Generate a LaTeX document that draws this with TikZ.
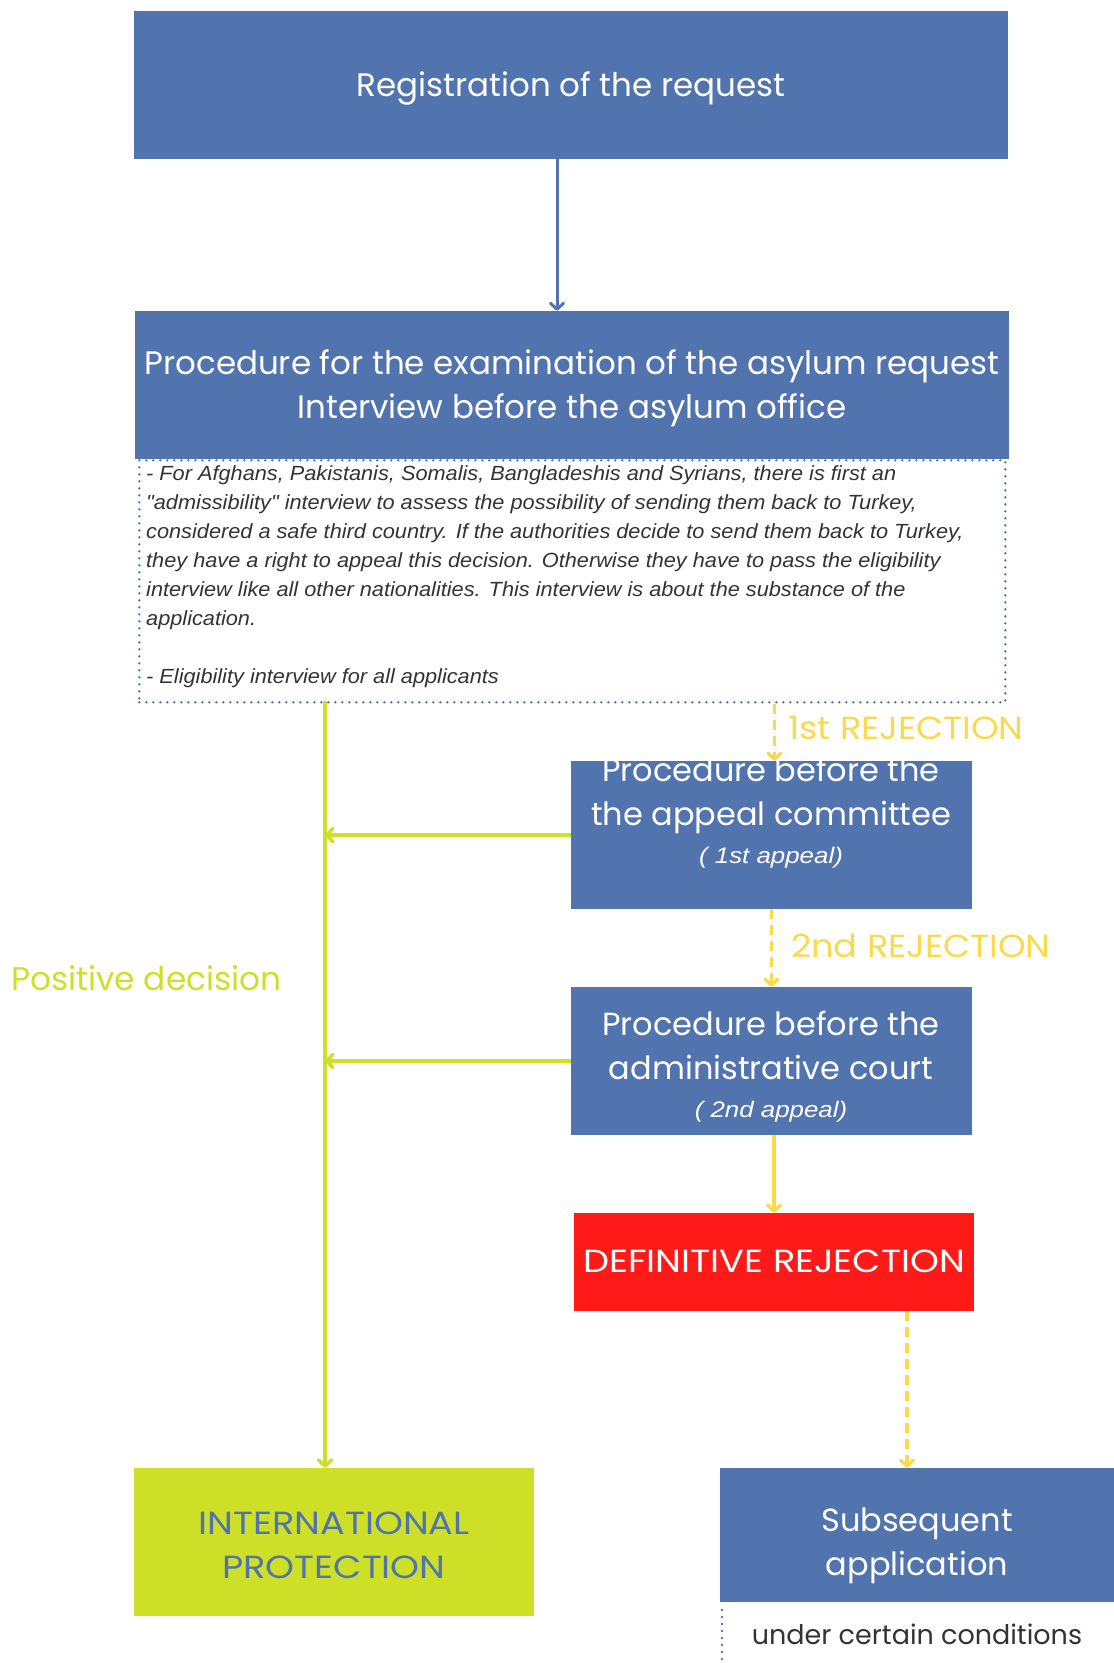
\documentclass[tikz,border=0pt]{standalone}
\usepackage{fontspec}
\setmainfont{Poppins}
\newfontfamily\capsfont{Poppins}[FakeStretch=1.15]
\newfontfamily\rejfont{Poppins}[FakeStretch=1.1]
\newfontfamily\notefont{Liberation Sans}[FakeStretch=1.06]
\newfontfamily\appealfamily{Liberation Sans}[FakeStretch=1.15]
\newcommand\appealfont{\appealfamily\itshape\fontsize{22.5}{26}\selectfont}
\usetikzlibrary{arrows.meta,positioning}

\definecolor{stageblue}{HTML}{5174AE}
\definecolor{okgreen}{HTML}{CDE027}
\definecolor{rejyellow}{HTML}{F9DA4A}
\definecolor{finalred}{HTML}{FF1A1A}
\definecolor{notegray}{HTML}{333333}

\tikzset{
  stagebox/.style={fill=stageblue, text=white, align=center, inner sep=0pt, text depth=2pt,
    font=\fontsize{32.5}{44}\selectfont},
  headfont/.style={font=\fontsize{32}{44}\selectfont},
  capsbox/.style={stagebox, font=\capsfont\fontsize{32}{44}\selectfont},
  dotframe/.style={draw=stageblue, line width=2.6pt, line cap=round, dash pattern=on 0pt off 7pt},
  barb/.style={-{Straight Barb[length=6pt,width=13pt,round]}},
  blueflow/.style={barb, draw=stageblue, line width=3pt},
  greenflow/.style={barb, draw=okgreen, line width=3.6pt},
  rejflow/.style={barb, draw=rejyellow, line width=3.4pt, dash pattern=on 10pt off 6pt},
  rejlabel/.style={text=rejyellow, anchor=west, inner sep=0pt, font=\rejfont\fontsize{32}{36}\selectfont}
}

\begin{document}
\begin{tikzpicture}[x=1pt,y=-1pt]
    \useasboundingbox (0,0) rectangle (1114,1663);

    % Nodes
    \node[dotframe, minimum width=866pt, minimum height=242pt, anchor=north west] (notes) at (138,459) {};
    \node[stagebox, minimum width=874pt, minimum height=148pt] (register) at (571,85) {Registration of the request};
    \node[stagebox, minimum width=874pt, minimum height=148pt] (exam) at (572,385)
        {Procedure for the examination of the asylum request\\Interview before the asylum office};
    \node[anchor=north west, align=left, inner sep=0pt, text=notegray,
          font=\notefont\itshape\fontsize{20.5}{29}\selectfont] (notetxt) at (146,465)
        {- For Afghans, Pakistanis, Somalis, Bangladeshis and Syrians, there is first an\\
         "admissibility" interview to assess the possibility of sending them back to Turkey,\\
         considered a safe third country. If the authorities decide to send them back to Turkey,\\
         they have a right to appeal this decision. Otherwise they have to pass the eligibility\\
         interview like all other nationalities. This interview is about the substance of the\\
         application.\\[29pt]
         - Eligibility interview for all applicants};

    \node[stagebox, minimum width=401pt, minimum height=148pt] (appeal) at (771.5,835) {};
    \node[align=center, inner sep=0pt, text=white, headfont] (appealtxt) at (771,813)
        {Procedure before the\\the appeal committee\\[-6pt]{\appealfont ( 1st appeal)}};
    \node[stagebox, minimum width=401pt, minimum height=148pt] (court) at (771.5,1061) {};
    \node[align=center, inner sep=0pt, text=white, headfont] (courttxt) at (771,1067)
        {Procedure before the\\administrative court\\[-6pt]{\appealfont ( 2nd appeal)}};
    \node[capsbox, fill=finalred, minimum width=400pt, minimum height=98pt] (final) at (774,1262)
        {DEFINITIVE REJECTION};
    \node[capsbox, fill=okgreen, minimum width=400pt, minimum height=148pt] (protect) at (334,1542) {};
    \node[align=center, inner sep=0pt, text=stageblue, font=\capsfont\fontsize{32}{44}\selectfont] (protecttxt) at (334,1545)
        {INTERNATIONAL\\PROTECTION};
    \node[stagebox, minimum width=394pt, minimum height=134pt] (subseq) at (917,1535) {};
    \node[align=center, inner sep=0pt, text=white, headfont] (subseqtxt) at (917,1546)
        {Subsequent\\application};
    \node[text=notegray, inner sep=0pt, font=\fontsize{27}{30}\selectfont] (terms) at (917,1634) {under certain conditions};
    \node[text=okgreen, anchor=west, inner sep=0pt, font=\fontsize{32.8}{36}\selectfont] (positive) at (11,978) {Positive decision};
    \coordinate (trunktop) at (325,701);

    % Arrows
    \draw[blueflow] ([xshift=-14pt]register.south) -- ([xshift=-14pt]register.south |- exam.north);
    \draw[greenflow] (trunktop) -- (trunktop |- protect.north);
    \draw[greenflow] (appeal.west) -- (appeal.west -| trunktop);
    \draw[greenflow] (court.west) -- (court.west -| trunktop);
    \draw[rejflow] ([xshift=3pt]appeal.north |- notes.south) -- ([xshift=3pt]appeal.north);
    \node[rejlabel] (rej1) at (788,728) {1st REJECTION};
    \draw[rejflow] (appeal.south) -- (court.north);
    \node[rejlabel] (rej2) at (791,946) {2nd REJECTION};
    \draw[barb, draw=rejyellow, line width=3.4pt] (final.north |- court.south) -- (final.north);
    \draw[rejflow] ([xshift=-10pt]subseq.north |- final.south) -- ([xshift=-10pt]subseq.north);
    \draw[dotframe] (722,1610) -- (722,1663);
\end{tikzpicture}
\end{document}
